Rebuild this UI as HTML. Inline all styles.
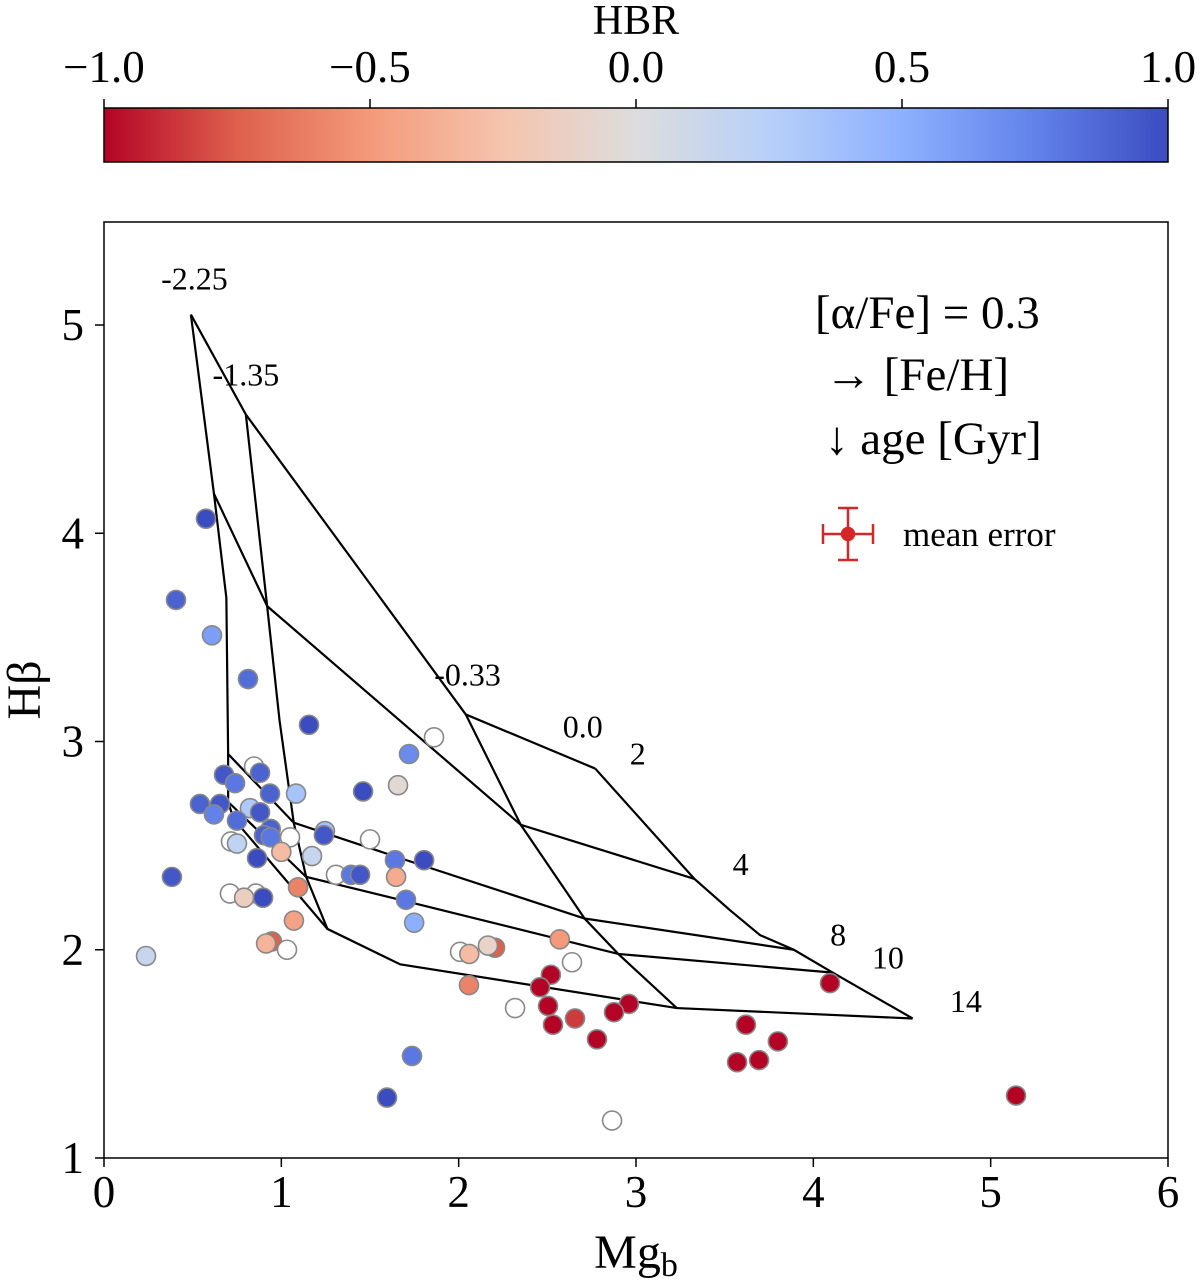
<!DOCTYPE html>
<html><head><meta charset="utf-8"><style>
body{margin:0;background:#fff;}
svg{display:block;font-family:"Liberation Serif",serif;}
</style></head><body>
<svg id="chart" width="1200" height="1280" viewBox="0 0 1200 1280" xmlns="http://www.w3.org/2000/svg">
<defs>
<linearGradient id="cmap" x1="0" x2="1" y1="0" y2="0">
<stop offset="0" stop-color="rgb(180,4,38)"/>
<stop offset="0.125" stop-color="rgb(222,96,77)"/>
<stop offset="0.25" stop-color="rgb(244,154,123)"/>
<stop offset="0.375" stop-color="rgb(245,196,173)"/>
<stop offset="0.5" stop-color="rgb(221,221,221)"/>
<stop offset="0.625" stop-color="rgb(184,208,249)"/>
<stop offset="0.75" stop-color="rgb(141,176,254)"/>
<stop offset="0.875" stop-color="rgb(98,130,234)"/>
<stop offset="1" stop-color="rgb(59,76,192)"/>
</linearGradient>
</defs>
<text x="636" y="34" font-size="42" text-anchor="middle">HBR</text>
<rect x="104" y="108" width="1064" height="54" fill="url(#cmap)" stroke="#000" stroke-width="1.5"/>
<g id="cbticks"></g>
<rect x="104" y="222" width="1064" height="936" fill="none" stroke="#000" stroke-width="1.5"/>
<g id="grid"></g>
<g id="points"></g>
<g id="axes"></g>
<text transform="translate(40,690) rotate(-90)" font-size="48" text-anchor="middle">Hβ</text>
<text x="636" y="1268" font-size="48" text-anchor="middle">Mg<tspan font-size="34" dy="8">b</tspan></text>
<g>
<text x="815" y="328" font-size="47">[α/Fe] = 0.3</text>
<text x="825" y="390" font-size="47">→ [Fe/H]</text>
<text x="825" y="454" font-size="47">↓ age [Gyr]</text>
<g stroke="#d62728" stroke-width="2.5">
<line x1="823" y1="534" x2="873" y2="534"/><line x1="848" y1="508" x2="848" y2="560"/>
<line x1="823" y1="524" x2="823" y2="544"/><line x1="873" y1="524" x2="873" y2="544"/>
<line x1="838" y1="508" x2="858" y2="508"/><line x1="838" y1="560" x2="858" y2="560"/>
<circle cx="848" cy="534" r="6" fill="#d62728"/>
</g>
<text x="903" y="546" font-size="35">mean error</text>
</g>
</svg>
<script>
const xTicks=[0,1,2,3,4,5,6];
const yTicks=[1,2,3,4,5];
const cbTicks=[-1.0,-0.5,0.0,0.5,1.0];
const cbTickLabels=["−1.0","−0.5","0.0","0.5","1.0"];
const feh225X=[0.49,0.62,0.69,0.70,0.70,0.73];
const feh225Y=[5.05,4.19,3.69,2.94,2.71,2.63];
const feh135X=[0.80,0.92,0.99,1.07,1.14,1.26];
const feh135Y=[4.57,3.65,3.10,2.61,2.35,2.10];
const feh033X=[2.04,2.35,2.71,2.90,3.23];
const feh033Y=[3.13,2.60,2.15,1.98,1.72];
const feh00X=[2.77,3.16,3.33,3.53,3.70,3.89,4.11,4.56];
const feh00Y=[2.87,2.50,2.34,2.19,2.07,2.00,1.89,1.67];
const age2X=[0.49,0.80,2.04,2.77];
const age2Y=[5.05,4.57,3.13,2.87];
const age4X=[0.62,0.92,2.35,3.33];
const age4Y=[4.19,3.65,2.60,2.34];
const age8X=[0.70,1.07,1.67,2.71,3.89];
const age8Y=[2.94,2.61,2.44,2.15,2.00];
const age10X=[0.70,1.14,1.67,2.90,4.11];
const age10Y=[2.71,2.35,2.24,1.98,1.89];
const age14X=[0.73,1.26,1.67,3.23,4.56];
const age14Y=[2.63,2.10,1.93,1.72,1.67];
const gridLabels=["-2.25","-1.35","-0.33","0.0","2","4","8","10","14"];
const gridLabelX=[0.51,0.80,2.05,2.70,3.01,3.59,4.14,4.42,4.86];
const gridLabelY=[5.17,4.71,3.27,3.02,2.89,2.36,2.02,1.91,1.70];
const ptX=[0.575,0.406,0.609,0.812,1.156,1.861,1.720,0.846,0.677,0.880,0.739,1.658,1.083,1.461,0.936,0.541,0.654,0.620,0.823,0.880,0.750,0.940,1.246,0.716,0.750,0.902,0.940,1.049,1.500,1.240,1.000,1.173,0.863,1.641,1.805,1.308,1.393,1.444,0.383,1.647,1.094,0.710,0.857,0.790,0.897,1.703,1.749,1.071,0.947,0.914,1.032,0.237,2.008,2.060,2.205,2.165,2.570,2.639,2.520,2.058,2.459,4.094,2.318,2.504,2.960,2.876,2.532,2.656,3.620,2.780,3.800,3.694,3.570,1.737,1.596,5.143,2.865];
const ptY=[4.07,3.68,3.51,3.30,3.08,3.02,2.94,2.88,2.84,2.85,2.80,2.79,2.75,2.76,2.75,2.70,2.70,2.65,2.68,2.66,2.62,2.58,2.57,2.52,2.51,2.55,2.54,2.54,2.53,2.55,2.47,2.45,2.44,2.43,2.43,2.36,2.36,2.36,2.35,2.35,2.30,2.27,2.27,2.25,2.25,2.24,2.13,2.14,2.04,2.03,2.00,1.97,1.99,1.98,2.01,2.02,2.05,1.94,1.88,1.83,1.82,1.84,1.72,1.73,1.74,1.70,1.64,1.67,1.64,1.57,1.56,1.47,1.46,1.49,1.29,1.30,1.18];
const ptHBR=[1,0.9,0.6,0.85,1,null,0.7,null,0.95,0.9,0.8,-0.05,0.35,1,0.9,0.9,0.95,0.75,0.3,0.95,0.85,0.9,0.35,null,0.2,0.9,0.8,null,null,0.95,-0.3,0.15,1,0.8,1,null,0.8,0.95,0.95,-0.4,-0.6,null,null,-0.15,1,0.8,0.5,-0.45,-0.75,-0.35,null,0.15,null,-0.3,-0.75,-0.1,-0.5,null,-1,-0.6,-1,-1,null,-1,-1,-1,-1,-0.85,-1,-1,-1,-1,-1,0.8,1,-1,null];

const NS="http://www.w3.org/2000/svg";
const X0=104,X1=1168;
function sx(v){return X0+(v-0)/(6-0)*(X1-X0);}
function sy(v){return 1158-(v-1)*208.25;}
function cbx(v){return 104+(v+1)/2*1064;}
const stops=[[59,76,192],[98,130,234],[141,176,254],[184,208,249],[221,221,221],[245,196,173],[244,154,123],[222,96,77],[180,4,38]];
function cmap(h){let t=(1-h)/2;t=Math.max(0,Math.min(1,t));const f=t*8;const i=Math.min(7,Math.floor(f));const r=f-i;const a=stops[i],b=stops[i+1];
return "rgb("+a.map((c,k)=>Math.round(c+(b[k]-c)*r)).join(",")+")";}
function mk(tag,attrs,parent){const e=document.createElementNS(NS,tag);for(const k in attrs)e.setAttribute(k,attrs[k]);parent.appendChild(e);return e;}

const cbg=document.getElementById('cbticks');
cbTicks.forEach((v,i)=>{
 const l=mk('line',{x1:cbx(v),x2:cbx(v),y1:108,y2:99,stroke:'#000','stroke-width':1.5},cbg);
 
 
 const t=mk('text',{x:cbx(v),y:82,'font-size':45,'text-anchor':'middle'},cbg);
 t.textContent=cbTickLabels[i];
 
 
});
const ax=document.getElementById('axes');
xTicks.forEach(v=>{
 const l=mk('line',{x1:sx(v),x2:sx(v),y1:1158,y2:1167,stroke:'#000','stroke-width':1.5},ax);
 
 
 const t=mk('text',{x:sx(v),y:1207,'font-size':45,'text-anchor':'middle'},ax);
 t.textContent=String(v);
 
 
});
yTicks.forEach(v=>{
 const l=mk('line',{x1:95,x2:104,y1:sy(v),y2:sy(v),stroke:'#000','stroke-width':1.5},ax);
 
 
 const t=mk('text',{x:84,y:sy(v)+15,'font-size':45,'text-anchor':'end'},ax);
 t.textContent=String(v);
 
 
});
const grid=document.getElementById('grid');
const lines=[[feh225X,feh225Y,'feh-line-m2.25'],[feh135X,feh135Y,'feh-line-m1.35'],[feh033X,feh033Y,'feh-line-m0.33'],[feh00X,feh00Y,'feh-line-0.0'],[age2X,age2Y,'age-line-2'],[age4X,age4Y,'age-line-4'],[age8X,age8Y,'age-line-8'],[age10X,age10Y,'age-line-10'],[age14X,age14Y,'age-line-14']];
lines.forEach(([xs,ys,n])=>{
 const p=mk('polyline',{points:xs.map((x,i)=>sx(x)+","+sy(ys[i])).join(" "),fill:'none',stroke:'#000','stroke-width':2.2},grid);
 
 
});
gridLabels.forEach((s,i)=>{
 const t=mk('text',{x:sx(gridLabelX[i]),y:sy(gridLabelY[i]),'font-size':32,'text-anchor':'middle'},grid);
 t.textContent=s;
 
 
});
const pg=document.getElementById('points');
ptX.forEach((x,i)=>{
 const h=ptHBR[i];
 const c=mk('circle',{cx:sx(x),cy:sy(ptY[i]),r:9.5,fill:h===null?'#fff':cmap(h),stroke:'#888','stroke-width':1.6},pg);
 
 
});
</script>
</body></html>
